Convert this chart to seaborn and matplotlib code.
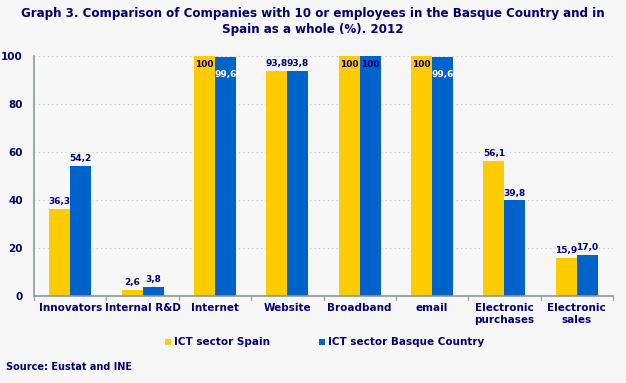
import matplotlib
matplotlib.use("Agg")
import matplotlib.pyplot as plt
import seaborn as sns
import pandas as pd
from matplotlib.patches import Rectangle

categories = ["Innovators", "Internal R&D", "Internet", "Website", "Broadband",
              "email", "Electronic\npurchases", "Electronic\nsales"]
spain = [36.3, 2.6, 100, 93.8, 100, 100, 56.1, 15.9]
basque = [54.2, 3.8, 99.6, 93.8, 100, 99.6, 39.8, 17.0]
series = ["ICT sector Spain", "ICT sector Basque Country"]
yticks = [0, 20, 40, 60, 80, 100]

NAVY = "#000070"
YEL = "#FFCC00"
BLUE = "#0063CC"
BG = "#F7F7F7"

sns.set_style("white")
plt.rcParams['font.family'] = ['DejaVu Sans']

df = pd.DataFrame({
    "cat": categories * 2,
    "val": spain + basque,
    "series": [series[0]] * len(categories) + [series[1]] * len(categories),
})

fig = plt.figure(figsize=(6.26, 3.83), dpi=100, facecolor=BG)
ax = fig.add_axes([34/626, 87/383, 579/626, 240/383])
ax.set_facecolor(BG)

sns.barplot(data=df, x="cat", y="val", hue="series", order=categories,
            hue_order=series, palette=[YEL, BLUE], width=0.58, saturation=1,
            ax=ax, legend=False)
for p in ax.patches:
    p.set_clip_on(False)
    p.set_edgecolor("none")

ax.set_ylim(0, 100)
ax.set_xlim(-0.5, len(categories) - 0.5)
ax.set_yticks(yticks)
ax.set_yticklabels([str(t) for t in yticks], color=NAVY, fontsize=7.5, fontweight="bold")
ax.yaxis.grid(True, linestyle=(0, (1, 3)), color="#B8C8D8", linewidth=0.8)
ax.set_axisbelow(True)
ax.set_xlabel("")
ax.set_ylabel("")

ax.set_xticks(range(len(categories)))
ax.set_xticklabels(categories, color=NAVY, fontsize=7.5, fontweight="bold", linespacing=1.2)
ax.tick_params(axis="x", length=0, pad=5)
ax.tick_params(axis="y", length=3, color="#8C9A9A", pad=5)
for b in [i - 0.5 for i in range(len(categories) + 1)]:
    ax.plot([b, b], [0, -1.5], color="#A0A8A8", lw=1, clip_on=False)

for s in ["top", "right"]:
    ax.spines[s].set_visible(False)
for s in ["left", "bottom"]:
    ax.spines[s].set_color("#8C9A9A")
    ax.spines[s].set_linewidth(1.2)

def fmt2(v):
    if v == int(v) and v >= 100:
        return "100"
    return ("%.1f" % v).replace(".", ",")

bars = ax.patches
n = len(categories)
for i in range(n):
    for j, vals in enumerate([spain, basque]):
        bar = bars[j * n + i]
        v = vals[i]
        x = bar.get_x() + bar.get_width() / 2
        txt = fmt2(v)
        if v >= 99.9:
            ax.text(x, v - 1.5, txt, ha="center", va="top", color=NAVY,
                    fontsize=6.5, fontweight="bold")
        elif v >= 99:
            ax.text(x, v - 5.5, txt, ha="center", va="top", color="white",
                    fontsize=6.5, fontweight="bold")
        else:
            ax.text(x, v + 1.2, txt, ha="center", va="bottom", color=NAVY,
                    fontsize=6.5, fontweight="bold")

fig.text(0.5, 1 - 21/383, "Graph 3. Comparison of Companies with 10 or employees in the Basque Country and in\nSpain as a whole (%). 2012",
         ha="center", va="center", color=NAVY, fontsize=8.6, fontweight="bold", linespacing=1.3)

ly = 1 - 342/383
fig.patches.append(Rectangle((165/626, ly - 3/383), 6/626, 6/383, transform=fig.transFigure,
                             facecolor=YEL, edgecolor="none"))
fig.text(174/626, ly, series[0], ha="left", va="center", color=NAVY, fontsize=7.5, fontweight="bold")
fig.patches.append(Rectangle((319/626, ly - 3/383), 6/626, 6/383, transform=fig.transFigure,
                             facecolor=BLUE, edgecolor="none"))
fig.text(328/626, ly, series[1], ha="left", va="center", color=NAVY, fontsize=7.5, fontweight="bold")

fig.text(6/626, 1 - 367/383, "Source: Eustat and INE", ha="left", va="center", color=NAVY,
         fontsize=7, fontweight="bold")

fig.savefig("out.png", dpi=100, facecolor=BG)
